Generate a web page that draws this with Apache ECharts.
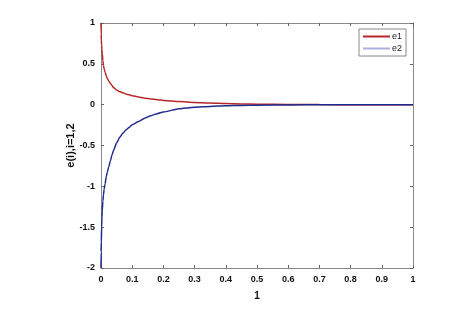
<!DOCTYPE html>
<html>
<head>
<meta charset="utf-8">
<script src="https://cdn.jsdelivr.net/npm/echarts@6/dist/echarts.min.js"></script>
<style>
html,body{margin:0;padding:0;background:#fff;}
#c{width:476px;height:314px;}
</style>
</head>
<body>
<div id="c"></div>
<script>
const tValues  = [0, 0.0005, 0.001, 0.002, 0.003, 0.004, 0.006, 0.008, 0.01, 0.013, 0.017, 0.02, 0.025, 0.03, 0.035, 0.04, 0.05, 0.06, 0.07, 0.08, 0.09, 0.1, 0.12, 0.14, 0.16, 0.18, 0.2, 0.25, 0.3, 0.35, 0.4, 0.45, 0.5, 0.6, 0.7, 0.8, 0.9, 1.0];
const e1Values = [1, 0.86, 0.79, 0.73, 0.68, 0.63, 0.54, 0.48, 0.44, 0.40, 0.35, 0.32, 0.29, 0.26, 0.235, 0.21, 0.18, 0.16, 0.145, 0.13, 0.12, 0.11, 0.095, 0.08, 0.07, 0.06, 0.052, 0.038, 0.027, 0.019, 0.013, 0.009, 0.006, 0.003, 0.001, 0, 0, 0];
const e2Values = [-2, -1.8, -1.68, -1.5, -1.38, -1.3, -1.18, -1.1, -1.04, -0.97, -0.88, -0.83, -0.76, -0.69, -0.62, -0.56, -0.47, -0.4, -0.35, -0.31, -0.28, -0.245, -0.205, -0.165, -0.135, -0.11, -0.09, -0.05, -0.032, -0.021, -0.014, -0.009, -0.006, -0.003, -0.001, 0, 0, 0];
const seriesNames = ['e1', 'e2'];
const xAxisName = '1';
const yAxisName = 'e(i),i=1,2';

const font = 'Liberation Sans, Arial, sans-serif';
const chart = echarts.init(document.getElementById('c'), null, {renderer: 'canvas'});
const axisLine = {show: true, onZero: false, lineStyle: {color: '#8a8a8a', width: 1}};
const tick = {show: true, inside: true, length: 3, lineStyle: {color: '#666'}};
chart.setOption({
  backgroundColor: '#fff',
  animation: false,
  grid: {left: 101, right: 63, top: 23, bottom: 46, containLabel: false},
  legend: {
    data: seriesNames,
    right: 70, top: 29,
    orient: 'vertical',
    itemWidth: 27, itemHeight: 2, itemGap: 3,
    icon: 'rect',
    padding: [3, 4, 3, 4],
    borderColor: '#888', borderWidth: 1,
    textStyle: {fontFamily: font, fontSize: 9, color: '#222', padding: [0,0,0,-3]}
  },
  xAxis: [{
    type: 'value', min: 0, max: 1, interval: 0.1, position: 'bottom',
    name: xAxisName, nameLocation: 'middle', nameGap: 23,
    nameTextStyle: {fontFamily: font, fontSize: 10, fontWeight: 'bold', color: '#111'},
    axisLine: axisLine, axisTick: tick, splitLine: {show: false},
    axisLabel: {fontFamily: font, fontSize: 9, fontWeight: 'bold', color: '#111', margin: 7}
  }, {
    type: 'value', min: 0, max: 1, interval: 0.1, position: 'top',
    axisLine: axisLine, axisTick: tick, splitLine: {show: false}, axisLabel: {show: false}
  }],
  yAxis: [{
    type: 'value', min: -2, max: 1, interval: 0.5, position: 'left',
    name: yAxisName, nameLocation: 'middle', nameGap: 25, nameRotate: 90, nameMoveOverlap: false,
    nameTextStyle: {fontFamily: font, fontSize: 11, fontWeight: 'bold', color: '#111'},
    axisLine: axisLine, axisTick: tick, splitLine: {show: false},
    axisLabel: {fontFamily: font, fontSize: 9, fontWeight: 'bold', color: '#111', margin: 6}
  }, {
    type: 'value', min: -2, max: 1, interval: 0.5, position: 'right',
    axisLine: axisLine, axisTick: tick, splitLine: {show: false}, axisLabel: {show: false}
  }],
  series: [{
    name: seriesNames[0], type: 'line', showSymbol: false, smooth: 0.2, smoothMonotone: 'x',
    data: tValues.map((t, i) => [t, e1Values[i]]),
    lineStyle: {color: '#b5282a', width: 1.5}, itemStyle: {color: '#b5282a'}
  }, {
    name: seriesNames[1], type: 'line', showSymbol: false, smooth: 0.2, smoothMonotone: 'x',
    data: tValues.map((t, i) => [t, e2Values[i]]),
    lineStyle: {color: '#1f2a8c', width: 1.5}, itemStyle: {color: '#aab0dc'}
  }]
});
</script>
</body>
</html>
